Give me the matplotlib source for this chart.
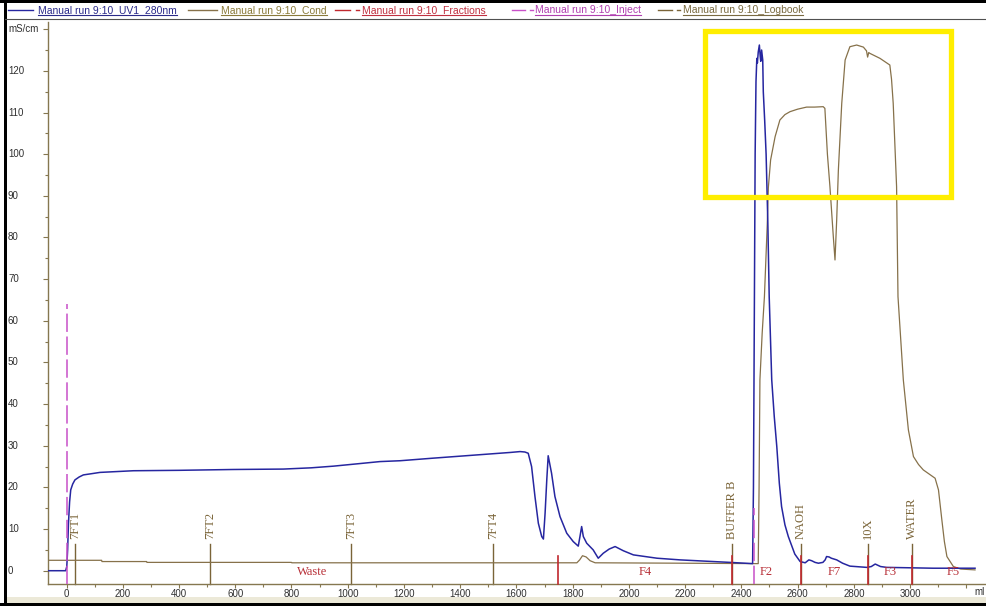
#!/usr/bin/env python3
import matplotlib
matplotlib.use("Agg")
import matplotlib.pyplot as plt
import matplotlib.transforms as mtransforms
from matplotlib.patches import Rectangle
from matplotlib.lines import Line2D

# -----------------------------
# Data
# -----------------------------
uv_ml = [-66, -3, 1, 4, 7, 11, 15, 22, 30, 45, 60, 90, 119, 238, 400, 593, 771, 870,
         949, 1040, 1115, 1186, 1300, 1400, 1500, 1580, 1613, 1630, 1642, 1654, 1666,
         1678, 1690, 1696, 1702, 1708, 1713, 1725, 1737, 1755, 1779, 1802, 1820, 1826,
         1832, 1838, 1850, 1873, 1891, 1909, 1930, 1951, 1980, 2016, 2100, 2182, 2270,
         2359, 2440, 2443, 2446, 2449, 2452, 2455, 2457, 2460, 2464, 2467, 2469, 2472,
         2476, 2478, 2483, 2488, 2494, 2499, 2508, 2517, 2526, 2535, 2543, 2555, 2567,
         2590, 2609, 2627, 2640, 2650, 2662, 2674, 2690, 2698, 2703, 2712, 2720, 2739,
         2760, 2786, 2846, 2862, 2876, 2895, 2917, 3000, 3082, 3231]
uv_val = [0, 0, 1.0, 5.0, 11.4, 16.5, 19.4, 20.8, 21.8, 22.5, 23.0, 23.3, 23.6, 24.0,
          24.1, 24.3, 24.4, 24.7, 25.1, 25.7, 26.2, 26.4, 27.0, 27.5, 28.0, 28.4, 28.6,
          28.5, 28.2, 25.0, 17.8, 11.4, 8.2, 7.6, 13.8, 21.8, 27.6, 23.4, 17.8, 13.0,
          9.0, 7.0, 5.9, 8.2, 10.6, 8.2, 6.6, 5.0, 3.0, 4.2, 5.2, 5.8, 4.8, 3.8, 3.0,
          2.6, 2.3, 2.0, 1.7, 20, 60, 100, 117.4, 123, 121.9, 124.5, 126.2, 123.5,
          122.3, 125, 122.6, 115, 108, 100, 84, 65.8, 45.8, 37, 29.8, 21, 15.4, 11,
          8.2, 4.0, 2.2, 1.9, 2.6, 2.4, 2.0, 1.8, 2.0, 2.6, 3.4, 3.3, 3.0, 2.6, 1.8,
          1.1, 0.8, 1.0, 1.6, 1.0, 0.8, 0.7, 0.6, 0.6]

cond_ml = [-66, 125, 126, 285, 286, 800, 801, 1815, 1825, 1835, 1848, 1862, 1880, 2200,
           2460, 2463, 2466, 2474, 2482, 2492, 2496, 2504, 2520, 2537, 2555, 2573, 2600,
           2632, 2660, 2691, 2697, 2706, 2715, 2727, 2733, 2739, 2745, 2757, 2769, 2786,
           2810, 2834, 2845, 2849, 2853, 2857, 2893, 2928, 2934, 2940, 2952, 2957, 2976,
           2994, 3012, 3030, 3047, 3089, 3101, 3113, 3122, 3131, 3154, 3180, 3231]
cond_val = [2.5, 2.5, 2.2, 2.2, 2.0, 2.0, 1.9, 1.9, 2.6, 3.6, 3.3, 2.4, 1.9, 1.8,
            1.7, 20, 45.8, 57, 65.8, 83, 92, 98.6, 104.2, 108.2, 109.5, 110.2, 110.8,
            111.3, 111.3, 111.4, 111.0, 100, 92.2, 80.2, 74.6, 84.2, 96.2, 112.2, 122.6,
            125.8, 126.2, 125.7, 124.8, 123.3, 124.4, 124.2, 123.0, 121.4, 118, 112.2,
            92.2, 65.8, 45.8, 33.8, 27.4, 25.5, 24.2, 22.2, 19.4, 12.2, 7, 3.4, 1.0,
            0.4, 0.2]

frac_bounds = [0, 1747, 2368, 2611, 2849, 3008, 3300]
frac_names = ["Waste", "F4", "F2", "F7", "F3", "F5"]

inject_ml = [3, 2446]
inject_top = [64, 15]

log_ml = [30, 510, 1012, 1518, 2368, 2611, 2849, 3008]
log_names = ["7FT1", "7FT2", "7FT3", "7FT4", "BUFFER B", "NAOH", "10X", "WATER"]

y_ticks = list(range(0, 130, 10))
x_ticks = list(range(0, 3200, 200))

legend_names = ["Manual run 9:10_UV1_280nm", "Manual run 9:10_Cond",
                "Manual run 9:10_Fractions", "Manual run 9:10_Inject",
                "Manual run 9:10_Logbook"]

# colours
UV_C = "#2626a0"
COND_C = "#86714a"
LOG_C = "#7a6438"
FRAC_C = "#c0282e"
INJ_C = "#c850c8"
AXIS_C = "#857750"
legend_line_c = [UV_C, COND_C, FRAC_C, INJ_C, LOG_C]
legend_text_c = ["#2a2a8a", "#8a7a3a", "#c03040", "#b040b0", "#7a6a40"]

# -----------------------------
# Figure / axes layout (pixel based)
# -----------------------------
W, H = 986, 606
fig = plt.figure(figsize=(W / 100, H / 100), dpi=100)
fig.patch.set_facecolor("white")


def fx(px):
    return px / W


def fy(py):
    return 1 - py / H


ax_left, ax_top, ax_bottom = 48, 21.7, 583.5
ax = fig.add_axes([fx(ax_left), fy(ax_bottom), 1 - fx(ax_left), (ax_bottom - ax_top) / H])
ax.set_xlim(-65.8, 3270)
ax.set_ylim(-3.07, 131.8)

for s in ["top", "right"]:
    ax.spines[s].set_visible(False)
for s in ["left", "bottom"]:
    ax.spines[s].set_color(AXIS_C)
    ax.spines[s].set_linewidth(1.0)

# -----------------------------
# Curves
# -----------------------------
ax.plot(cond_ml, cond_val, color=COND_C, lw=0.9, zorder=3)
ax.plot(uv_ml, uv_val, color=UV_C, lw=1.1, zorder=4)

# logbook marks
for x, name in zip(log_ml, log_names):
    ax.plot([x, x], [-3.07, 6.3], color=LOG_C, lw=1.0, zorder=2, clip_on=False)
    ax.text(x, 7.5, name, rotation=90, ha="center", va="bottom", color=LOG_C,
            fontsize=9, family="Liberation Serif", zorder=5)

# fraction marks and labels
for x in frac_bounds[1:-1]:
    ax.plot([x, x], [-3.07, 3.6], color=FRAC_C, lw=1.2, zorder=5, clip_on=False)
for i, name in enumerate(frac_names):
    mid = (frac_bounds[i] + frac_bounds[i + 1]) / 2
    ax.text(mid, -0.4, name, ha="center", va="center", color="#b83038",
            fontsize=9, family="Liberation Serif", zorder=6)

# inject marks
for x, top in zip(inject_ml, inject_top):
    ax.plot([x, x], [-3.07, top], color=INJ_C, lw=1.1, ls=(0, (12, 3)), zorder=6)

# highlight box
ax.add_patch(Rectangle((2269, 89.6), 3144 - 2269, 129.5 - 89.6, fill=False,
                       edgecolor="#ffee00", lw=3.8, zorder=10, clip_on=False))

# -----------------------------
# Ticks
# -----------------------------
ax.set_xticks(x_ticks + [3200])
ax.set_xticklabels([str(v) for v in x_ticks] + [""])
ax.set_xticks(list(range(100, 3300, 200)), minor=True)
ax.tick_params(axis="x", which="major", direction="out", length=3, width=0.8,
               color=AXIS_C, labelsize=7, pad=1.2, labelcolor="#303030")
ax.tick_params(axis="x", which="minor", direction="out", length=2.5, width=0.8,
               color=AXIS_C)
for lab in ax.get_xticklabels():
    lab.set_family("Liberation Sans")

ax.set_yticks(y_ticks + [130])
ax.set_yticklabels([])
ax.set_yticks(list(range(5, 130, 10)), minor=True)
ax.tick_params(axis="y", which="major", direction="out", length=3.6, width=0.8,
               color=AXIS_C)
ax.tick_params(axis="y", which="minor", direction="out", length=2.2, width=0.8,
               color=AXIS_C)

ytrans = mtransforms.blended_transform_factory(fig.transFigure, ax.transData)
for v in y_ticks:
    fig.text(fx(8), v, str(v), transform=ytrans, ha="left", va="center",
             fontsize=7, family="Liberation Sans", color="#303030")
fig.text(fx(8), 130, "mS/cm", transform=ytrans, ha="left", va="center",
         fontsize=7, family="Liberation Sans", color="#303030")
fig.text(fx(985), fy(592), "ml", ha="right", va="center", fontsize=7,
         family="Liberation Sans", color="#303030")

# -----------------------------
# Legend strip at the top
# -----------------------------
legend_layout = [(8, 33, None, 38), (188, 217, None, 221), (335, 350, 356, 362),
                 (512, 525, 530, 535), (658, 672, 677, 683)]
renderer = fig.canvas.get_renderer()
for (l0, l1, dash, tx), name, lc, tc in zip(legend_layout, legend_names,
                                             legend_line_c, legend_text_c):
    fig.add_artist(Line2D([fx(l0), fx(l1)], [fy(9.5), fy(9.5)], color=lc, lw=1.0))
    if dash is not None:
        fig.add_artist(Line2D([fx(dash), fx(dash + 3)], [fy(9.5), fy(9.5)], color=lc, lw=1.0))
    t = fig.text(fx(tx), fy(10), name, ha="left", va="center", fontsize=7.5,
                 family="Liberation Sans", color=tc)
    bb = t.get_window_extent(renderer)
    fig.add_artist(Line2D([bb.x0 / W, bb.x1 / W], [fy(14.5), fy(14.5)], color=tc, lw=0.8))

# separator under legend, frame and bottom band
fig.add_artist(Line2D([fx(5), 1], [fy(18.5), fy(18.5)], color="#505050", lw=0.8))
fig.add_artist(Rectangle((fx(5), fy(603)), 1, (603 - 597) / H, transform=fig.transFigure,
                         facecolor="#ece9d8", edgecolor="none"))
fig.add_artist(Rectangle((0, fy(3)), 1, 3 / H, transform=fig.transFigure,
                         facecolor="black", edgecolor="none"))
fig.add_artist(Rectangle((0, 0), 1, 3 / H, transform=fig.transFigure,
                         facecolor="black", edgecolor="none"))
fig.add_artist(Rectangle((fx(4), 0), 3 / W, 1, transform=fig.transFigure,
                         facecolor="black", edgecolor="none"))

fig.savefig("out.png", dpi=100)
plt.close(fig)
print("[done] out.png")
